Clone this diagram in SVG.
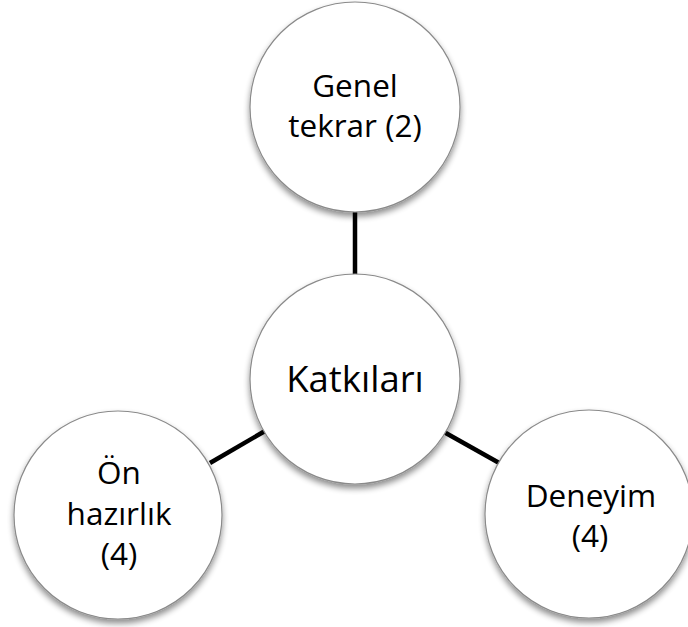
<svg xmlns="http://www.w3.org/2000/svg" width="688" height="627" viewBox="0 0 688 627">
<style>
.node circle{fill:#ffffff;stroke:#8a8a8a;stroke-width:1.2;filter:url(#sh)}
.node text{font-family:"Open Sans","Liberation Sans",sans-serif;font-size:31.5px;fill:#000;text-anchor:middle}
.conn line{stroke:#000;stroke-width:4.5}
</style>
<defs>
<filter id="sh" x="-20%" y="-20%" width="140%" height="145%">
<feGaussianBlur in="SourceAlpha" stdDeviation="3"/>
<feOffset dx="0" dy="4" result="b"/>
<feComponentTransfer><feFuncA type="linear" slope="0.45"/></feComponentTransfer>
<feMerge><feMergeNode/><feMergeNode in="SourceGraphic"/></feMerge>
</filter>
</defs>
<rect width="688" height="627" fill="#ffffff"/>
<g id="connectors" class="conn">
<line x1="355" y1="210" x2="355" y2="278"/>
<line x1="210" y1="463" x2="265" y2="431"/>
<line x1="444" y1="432" x2="501" y2="464"/>
</g>
<g id="node-genel" class="node">
<circle cx="355" cy="107" r="105"/>
<text x="355" y="97">Genel</text>
<text x="355" y="137">tekrar (2)</text>
</g>
<g id="node-katkilari" class="node">
<circle cx="355" cy="379" r="105"/>
<text x="355" y="392" style="font-size:36.5px">Katkıları</text>
</g>
<g id="node-onhazirlik" class="node">
<circle cx="118" cy="515" r="104"/>
<text x="119" y="484">Ön</text>
<text x="119" y="525">hazırlık</text>
<text x="119" y="565">(4)</text>
</g>
<g id="node-deneyim" class="node">
<circle cx="589" cy="514" r="104"/>
<text x="591" y="507">Deneyim</text>
<text x="590" y="547">(4)</text>
</g>
</svg>
